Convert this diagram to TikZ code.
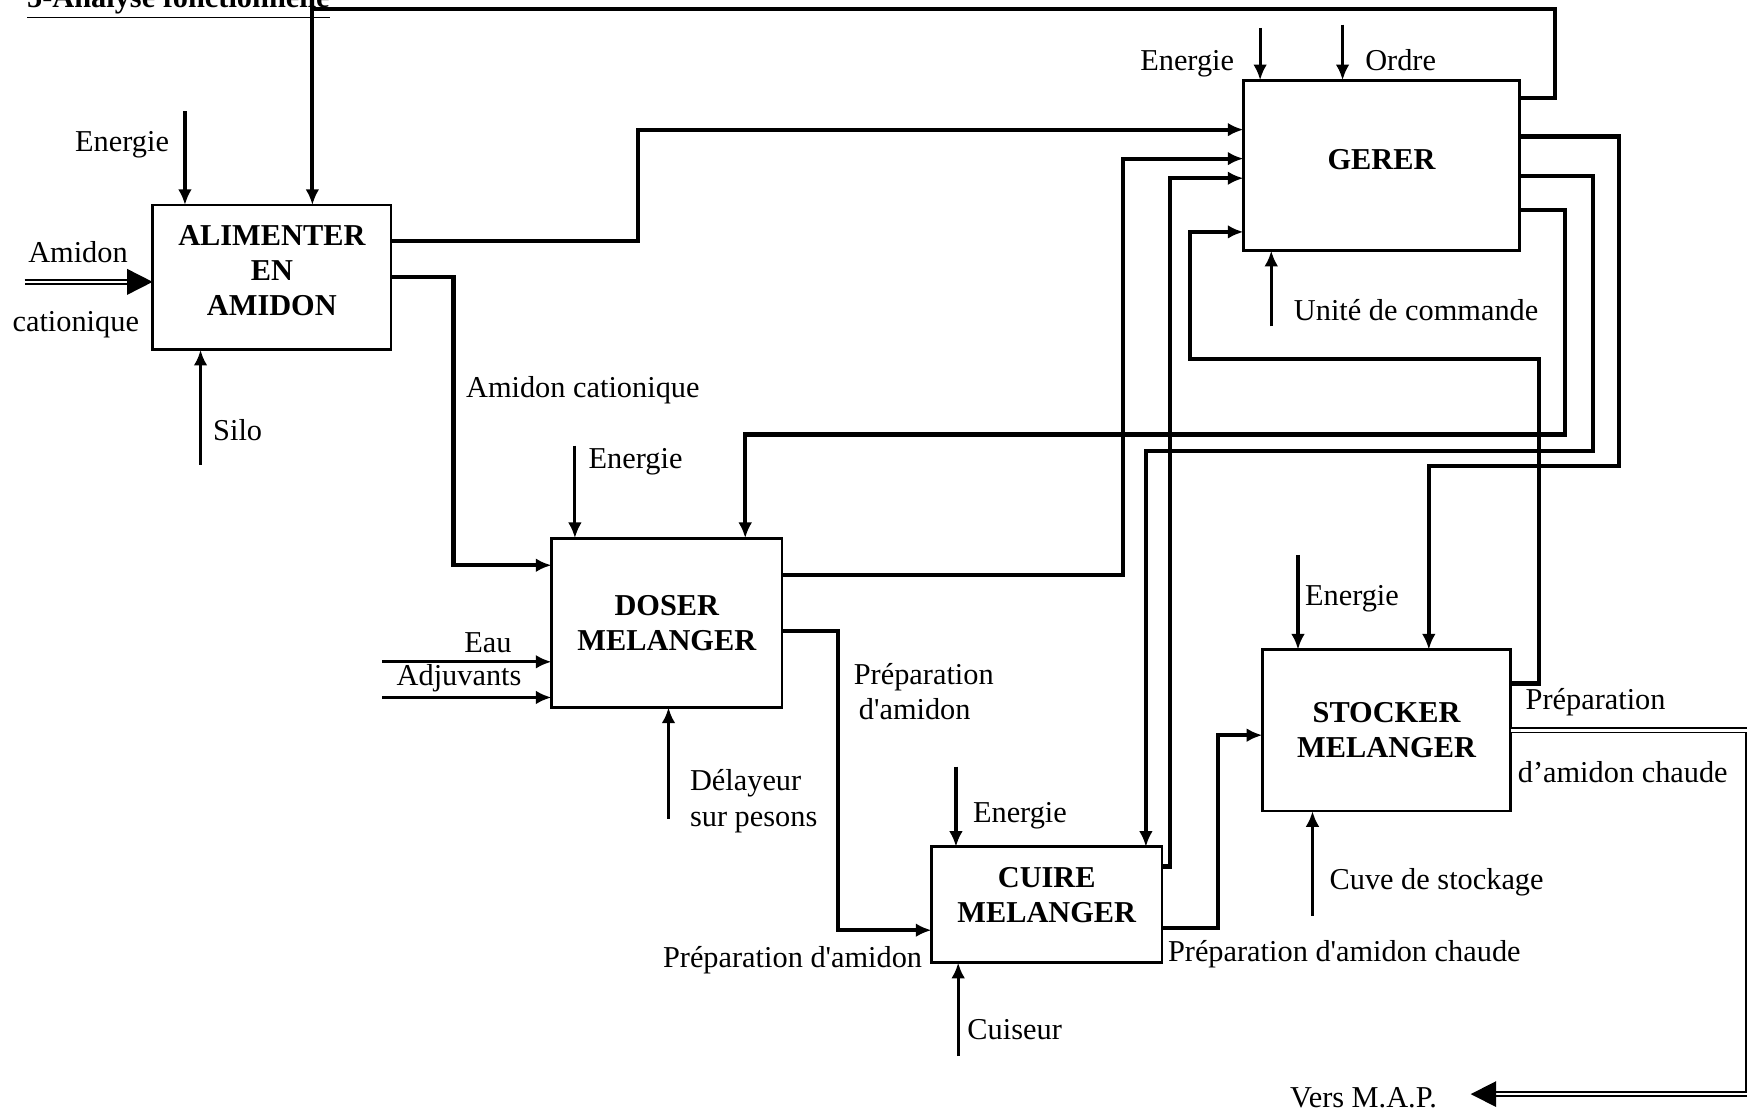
\documentclass[tikz,border=0pt]{standalone}
\usepackage{fontspec}
\setmainfont{Liberation Serif}
\usetikzlibrary{arrows.meta,calc}

\tikzset{
  fct/.style={draw, line width=1.4pt, inner sep=0pt, outer sep=0pt, align=center, font=\fontsize{15.5}{18}\selectfont\bfseries},
  lbl/.style={inner sep=0pt, align=left, font=\fontsize{15.5}{18}\selectfont},
  flux/.style={line width=2.1pt, -{Latex[length=8pt,width=7pt]}},
  entree/.style={line width=1.6pt, -{Latex[length=8pt,width=7pt]}},
  dbl/.style={double, double distance=1.4pt, line width=0.9pt, -{Triangle[length=13pt,width=13pt]}},
}

\begin{document}
\begin{tikzpicture}[x=0.02cm, y=-0.02cm]
\useasboundingbox (0,0) rectangle (1568,999);
\node[lbl, font=\fontsize{15.5}{18}\selectfont\bfseries, anchor=base west] (titre) at (24,7) {\underline{5-Analyse fonctionnelle}};

% fonctions
\node[fct, minimum width=4.28cm, minimum height=2.6cm, text depth=0.24cm] (alim) at (244,249) {ALIMENTER\\EN\\AMIDON};
\node[fct, minimum width=4.96cm, minimum height=3.06cm, text depth=0.2cm] (gerer) at (1240,148.5) {GERER};
\node[fct, minimum width=4.14cm, minimum height=3.04cm] (doser) at (598.5,559) {DOSER\\MELANGER};
\node[fct, minimum width=4.14cm, minimum height=2.08cm, text depth=0.36cm] (cuire) at (939.5,812) {CUIRE\\MELANGER};
\node[fct, minimum width=4.46cm, minimum height=2.9cm] (stock) at (1244.5,655.5) {STOCKER\\MELANGER};

% ALIMENTER
\coordinate (ea) at (166,100);
\node[lbl, anchor=east] (lea) at (152,130) {Energie};
\coordinate (am) at (22,253);
\node[lbl] (lam1) at (70,226) {Amidon};
\node[lbl] (lam2) at (68,291) {cationique};
\coordinate (silo) at (180,417);
\node[lbl, anchor=west] (lsilo) at (191,386) {Silo};
\draw[entree] (ea) -- (ea |- alim.north);
\draw[dbl] (am) -- (am -| alim.west);
\draw[entree] (silo) -- (silo |- alim.south);

% GERER
\coordinate (eg) at (1131,25);
\node[lbl, anchor=east] (leg) at (1108,57) {Energie};
\coordinate (ord) at (1205,22);
\node[lbl, anchor=west] (lord) at (1225,54) {Ordre};
\coordinate (uc) at (1141,293);
\node[lbl, anchor=west] (luc) at (1161,278) {Unité de commande};
\draw[entree] (eg) -- (eg |- gerer.north);
\draw[entree] (ord) -- (ord |- gerer.north);
\draw[entree] (uc) -- (uc |- gerer.south);

% DOSER
\coordinate (ed) at (516,400);
\node[lbl, anchor=west] (led) at (528,414) {Energie};
\coordinate (eau) at (343,594);
\node[lbl] (leau) at (438,577) {Eau};
\coordinate (adj) at (343,626);
\node[lbl] (ladj) at (412,609) {Adjuvants};
\coordinate (del) at (600,735);
\node[lbl, anchor=west] (ldel) at (619,719) {Délayeur\\sur pesons};
\node[lbl, anchor=west] (lam3) at (418,350) {Amidon cationique};
\node[lbl, anchor=west] (lprep1) at (766,621) {Préparation\\\,d\textquotesingle amidon};
\draw[entree] (ed) -- (ed |- doser.north);
\draw[entree] (eau) -- (eau -| doser.west);
\draw[entree] (adj) -- (adj -| doser.west);
\draw[entree] (del) -- (del |- doser.south);

% CUIRE
\coordinate (ec) at (858,688);
\node[lbl, anchor=west] (lec) at (873,732) {Energie};
\coordinate (cuis) at (860,948);
\node[lbl, anchor=west] (lcuis) at (868,924) {Cuiseur};
\node[lbl, anchor=east] (lprep2) at (828,862) {Préparation d\textquotesingle amidon};
\node[lbl, anchor=west] (lprep3) at (1048,856) {Préparation d\textquotesingle amidon chaude};
\draw[entree] (ec) -- (ec |- cuire.north);
\draw[entree] (cuis) -- (cuis |- cuire.south);

% STOCKER
\coordinate (es) at (1165,498);
\node[lbl, anchor=west] (les) at (1171,537) {Energie};
\coordinate (cuve) at (1178,822);
\node[lbl, anchor=west] (lcuve) at (1193,792) {Cuve de stockage};
\node[lbl, anchor=west] (lprep4) at (1369,630) {Préparation};
\node[lbl, anchor=west] (lprep5) at (1362,693) {d’amidon chaude};
\coordinate (map) at (1320,982);
\node[lbl, anchor=east] (lmap) at (1290,985) {Vers M.A.P.};
\draw[entree] (es) -- (es |- stock.north);
\draw[entree] (cuve) -- (cuve |- stock.south);
\draw[dbl] (stock.east) -- (1569,655.5) |- (map);

% flux entre fonctions
\draw[flux] ($(alim.north east)!.25!(alim.south east)$) -- ++(222,0) |- ($(gerer.north west)!.29!(gerer.south west)$);
\draw[flux] (alim.east) -- ++(56,0) |- ($(doser.north west)!.16!(doser.south west)$);
\draw[flux] ($(doser.north east)!.22!(doser.south east)$) -- ++(306,0) |- ($(gerer.north west)!.46!(gerer.south west)$);
\draw[flux] ($(doser.north east)!.55!(doser.south east)$) -- ++(50,0) |- ($(cuire.north west)!.72!(cuire.south west)$);
\draw[flux] ($(cuire.north east)!.17!(cuire.south east)$) -- ++(7,0) |- ($(gerer.north west)!.575!(gerer.south west)$);
\draw[flux] ($(cuire.north east)!.70!(cuire.south east)$) -- ++(50,0) |- ($(stock.north west)!.53!(stock.south west)$);
\draw[flux] ($(stock.north east)!.21!(stock.south east)$) -- ++(25,0) |- (1068,322) |- ($(gerer.north west)!.89!(gerer.south west)$);

% retours de GERER
\draw[flux] ($(gerer.north east)!.105!(gerer.south east)$) -| (1396,8) -| ($(alim.north west)!.67!(alim.north east)$);
\draw[flux] ($(gerer.north east)!.33!(gerer.south east)$) -| (1453,418) -| ($(stock.north west)!.67!(stock.north east)$);
\draw[flux] ($(gerer.north east)!.56!(gerer.south east)$) -| (1430,405) -| ($(cuire.north west)!.93!(cuire.north east)$);
\draw[flux] ($(gerer.north east)!.76!(gerer.south east)$) -| (1405,390) -| ($(doser.north west)!.84!(doser.north east)$);
\end{tikzpicture}
\end{document}
